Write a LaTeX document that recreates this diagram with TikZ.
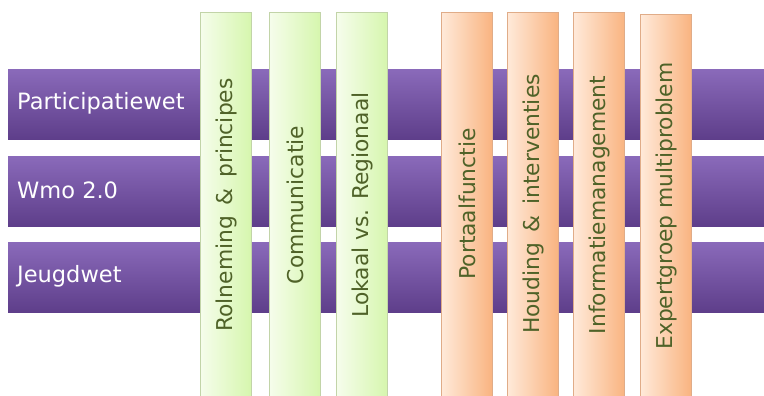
\documentclass[tikz,border=0pt]{standalone}
\usepackage{fontspec}
\setmainfont{DejaVu Sans}
\definecolor{barTop}{HTML}{8A6ABA}
\definecolor{barBot}{HTML}{5E3E8A}
\definecolor{barShadow}{HTML}{C8C0D2}
\definecolor{gLeft}{HTML}{F6FDEC}
\definecolor{gRight}{HTML}{D6F6AE}
\definecolor{gLine}{HTML}{C2D4A8}
\definecolor{oLeft}{HTML}{FFEADA}
\definecolor{oRight}{HTML}{F9B481}
\definecolor{oLine}{HTML}{E0AC88}
\definecolor{colText}{HTML}{4F6228}
\begin{document}
\begin{tikzpicture}[x=1pt,y=-1pt,
  bar/.style={rectangle, inner sep=0pt, minimum width=756pt, minimum height=70pt,
    top color=barTop, bottom color=barBot, draw=none, anchor=north west},
  barlabel/.style={anchor=west, text=white, font=\fontsize{22.5}{26}\selectfont, inner sep=0pt},
  gcol/.style={rectangle, inner sep=0pt, minimum width=51pt, minimum height=400pt,
    left color=gLeft, right color=gRight, draw=gLine, line width=0.8pt, anchor=north},
  ocol/.style={rectangle, inner sep=0pt, minimum width=51pt, minimum height=400pt,
    left color=oLeft, right color=oRight, draw=oLine, line width=0.8pt, anchor=north},
  coltext/.style={rotate=90, text=colText, font=\fontsize{21.8}{24}\selectfont, inner sep=0pt}
]
\useasboundingbox (0,0) rectangle (764,396);
% bars
\node[bar] (b1) at (8,69) {};
\node[bar] (b2) at (8,156) {};
\node[bar] (b3) at (8,242) {};
\node[barlabel] (l1) at ([xshift=9pt,yshift=1pt]b1.west) {Participatiewet};
\node[barlabel] (l2) at ([xshift=9pt,yshift=1pt]b2.west) {Wmo 2.0};
\node[barlabel] (l3) at ([xshift=9pt,yshift=1pt]b3.west) {Jeugdwet};
% columns
\node[gcol] (c1) at (225.5,12) {};
\node[gcol] (c2) at (294.5,12) {};
\node[gcol] (c3) at (362,12) {};
\node[ocol] (c4) at (466.5,12) {};
\node[ocol] (c5) at (532.5,12) {};
\node[ocol] (c6) at (599,12) {};
\node[ocol] (c7) at (665.5,14) {};
% column texts
\node[coltext] (t1) at (226,205) {Rolneming \,\&\, principes};
\node[coltext] (t2) at (295,205) {Communicatie};
\node[coltext] (t3) at (362,205) {Lokaal vs. Regionaal};
\node[coltext] (t4) at (467,204) {Portaalfunctie};
\node[coltext] (t5) at (533,204) {Houding \,\&\, interventies};
\node[coltext] (t6) at (599,205) {Informatiemanagement};
\node[coltext] (t7) at (666,206) {Expertgroep multiproblem};
\end{tikzpicture}
\end{document}
